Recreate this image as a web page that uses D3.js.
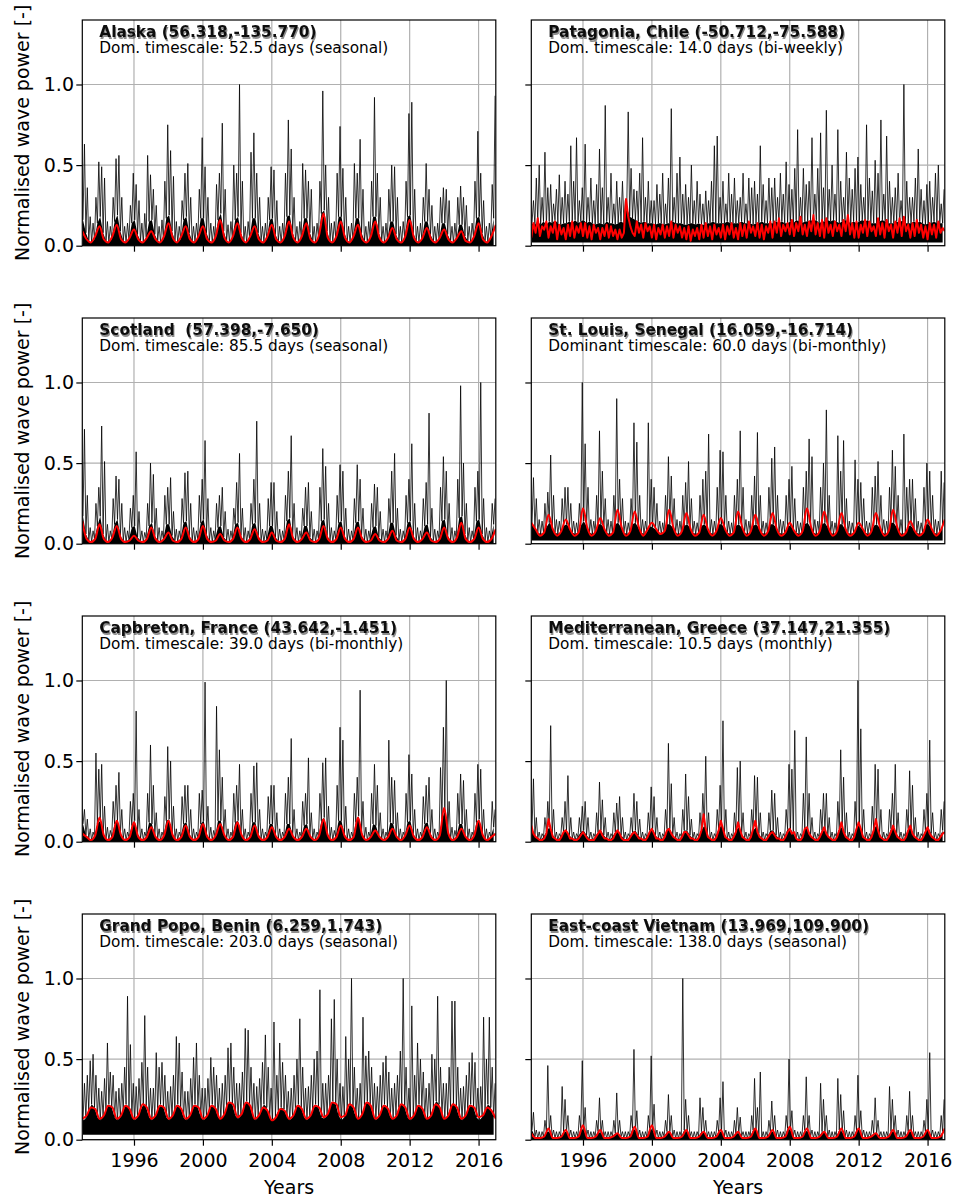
<!DOCTYPE html>
<html>
<head>
<meta charset="utf-8">
<script src="https://cdn.jsdelivr.net/npm/d3@7"></script>
<style>
  body { margin: 0; background: #fff; }
  text { font-family: "DejaVu Sans", sans-serif; }
</style>
</head>
<body>
<svg id="chart" width="955" height="1197"></svg>
<script>
// All power values are in hundredths of normalised wave power.
// Black series: 12 samples a year, alternating trough (body level) and peak (storm spike).
// Red series: smoothed signal, 4 samples a year (8 for the two noisy sites).
const startYear = 1993;
const endYear = 2017;
const blackPerYear = 12;
const yearTicks = [1996, 2000, 2004, 2008, 2012, 2016];
const powerTicks = [0, 0.5, 1.0];

const siteNames = [
  'Alaska (56.318,-135.770)', 'Patagonia, Chile (-50.712,-75.588)',
  'Scotland  (57.398,-7.650)', 'St. Louis, Senegal (16.059,-16.714)',
  'Capbreton, France (43.642,-1.451)', 'Mediterranean, Greece (37.147,21.355)',
  'Grand Popo, Benin (6.259,1.743)', 'East-coast Vietnam (13.969,109.900)'
];
const timescales = [
  'Dom. timescale: 52.5 days (seasonal)', 'Dom. timescale: 14.0 days (bi-weekly)',
  'Dom. timescale: 85.5 days (seasonal)', 'Dominant timescale: 60.0 days (bi-monthly)',
  'Dom. timescale: 39.0 days (bi-monthly)', 'Dom. timescale: 10.5 days (monthly)',
  'Dom. timescale: 203.0 days (seasonal)', 'Dom. timescale: 138.0 days (seasonal)'
];
// lowest level reached by the black signal
const floors = [0, 2, 0, 2, 0, 0, 3, 0];

const alaskaBlack = [
  16,63,8,36,3,18,2,14,4,30,14,52, 18,49,8,42,3,15,2,12,4,30,15,54,
  19,56,9,30,3,12,2,14,4,25,14,45, 16,38,7,28,3,14,2,20,5,56,15,44,
  16,35,7,25,3,12,2,16,4,40,17,75, 19,59,9,43,3,15,2,12,4,28,16,45,
  18,51,8,30,3,12,2,14,5,35,17,67, 17,49,8,30,3,14,2,12,4,38,16,45,
  20,76,9,35,3,13,2,15,5,50,16,45, 18,100,8,40,3,12,2,15,5,58,17,70,
  17,45,8,30,3,12,2,14,4,30,16,49, 17,47,7,28,3,12,2,14,5,45,18,78,
  19,60,8,30,3,12,2,15,5,51,17,47, 17,40,8,35,3,12,2,14,5,40,20,96,
  22,50,9,30,3,14,2,15,5,45,18,74, 18,48,8,30,3,12,2,14,5,51,17,45,
  17,66,8,35,3,12,2,15,5,40,18,92, 18,45,8,30,3,12,2,14,4,35,15,50,
  15,49,7,30,3,12,2,15,5,40,18,82, 19,89,8,35,3,12,2,14,4,30,15,51,
  15,35,7,25,3,12,2,14,4,30,14,36, 14,35,7,28,3,12,2,14,4,30,13,37,
  13,30,6,25,3,12,2,14,5,40,17,71, 18,45,8,28,3,12,2,14,5,38,17,93
];
const patagoniaBlack = [
  14,28,13,42,15,50,13,30,15,58,13,36, 15,38,14,26,16,35,14,44,13,30,14,40,
  14,32,15,62,14,40,16,67,14,28,15,36, 16,63,14,30,15,42,14,28,13,38,14,60,
  14,36,13,87,15,30,14,45,14,26,13,40, 14,30,15,40,14,28,24,83,18,48,17,35,
  16,34,15,45,14,67,15,30,14,40,14,28, 14,28,13,38,14,32,14,45,13,26,14,42,
  14,85,15,30,14,45,14,55,14,32,13,38, 13,30,14,50,14,28,13,40,14,32,13,26,
  13,34,14,28,14,40,15,62,14,68,14,30, 14,40,14,26,15,45,14,32,14,42,14,28,
  14,30,15,45,14,26,14,42,14,36,13,40, 14,32,14,62,15,38,14,28,14,42,14,36,
  14,42,15,30,14,45,15,32,14,52,14,38, 15,35,14,48,16,72,15,30,14,48,15,38,
  15,40,16,67,15,32,16,48,14,70,15,36, 15,84,16,35,15,50,16,32,15,72,14,40,
  15,30,16,58,15,42,14,35,15,48,14,55, 15,38,16,30,15,75,16,42,14,34,14,53,
  14,45,15,78,16,32,15,68,14,40,14,30, 14,36,15,45,14,28,16,100,14,40,14,30,
  14,30,15,42,14,60,15,35,14,28,13,38, 14,40,14,30,15,45,14,50,14,26,14,35
];
const scotlandBlack = [
  17,71,6,30,2,10,1,8,3,25,11,35, 17,73,6,51,2,12,1,8,3,28,12,42,
  15,40,5,25,2,10,1,8,3,22,10,30, 11,57,4,20,2,8,1,7,3,25,11,50,
  13,43,5,22,2,10,1,8,3,30,12,35, 12,41,5,20,2,9,1,8,3,28,13,44,
  14,45,5,25,2,10,1,8,3,30,13,40, 15,64,6,28,2,10,1,8,3,25,10,30,
  11,35,4,20,2,9,1,8,3,22,12,38, 13,56,5,22,2,10,1,8,3,25,12,40,
  13,76,5,25,2,9,1,8,3,28,11,38, 11,38,4,20,2,9,1,8,3,30,14,45,
  16,67,5,25,2,10,1,8,3,22,11,35, 11,38,4,20,2,9,1,8,3,35,14,59,
  15,48,5,25,2,10,1,8,3,30,13,49, 14,45,5,22,2,9,1,8,3,28,13,49,
  14,40,5,22,2,9,1,8,3,25,10,37, 11,35,4,20,2,9,1,8,3,28,13,45,
  13,56,5,22,2,9,1,8,3,30,13,40, 14,62,5,25,2,10,1,8,3,28,11,38,
  12,81,4,22,2,9,1,8,3,35,14,54, 15,45,5,25,2,10,1,8,3,40,16,98,
  17,50,6,25,2,10,1,8,3,35,14,45, 15,100,6,28,2,10,1,8,3,25,12,28
];
const senegalBlack = [
  12,41,10,28,7,15,6,14,7,25,10,32, 13,55,11,30,7,15,6,14,7,28,11,35,
  12,35,10,25,7,14,6,13,7,25,11,100, 14,62,11,35,7,15,6,14,7,30,12,70,
  12,45,10,28,7,15,6,14,7,30,12,90, 13,40,10,28,7,14,6,13,7,28,12,75,
  13,63,10,30,7,15,6,14,7,75,11,40, 10,35,9,25,7,14,6,13,7,30,12,54,
  12,42,10,28,7,15,6,14,7,30,11,38, 12,51,10,28,7,14,6,13,7,30,11,40,
  12,45,10,68,7,15,6,14,7,35,12,58, 12,57,10,30,7,14,6,13,7,30,11,40,
  12,70,10,35,7,15,6,14,7,30,11,42, 12,69,10,30,7,14,6,13,7,35,12,53,
  12,60,10,30,7,15,6,14,7,30,11,40, 11,48,9,28,7,14,6,13,7,35,12,45,
  13,65,10,54,7,15,6,14,7,35,12,50, 13,83,10,30,7,14,6,13,7,67,12,45,
  12,64,9,28,7,14,6,13,7,52,11,40, 11,38,9,28,7,14,6,13,7,35,11,42,
  12,51,10,30,7,15,6,14,7,35,13,58, 13,48,10,30,7,15,6,68,7,35,11,40,
  11,40,9,28,7,14,6,13,7,35,12,50, 12,45,10,30,7,15,6,14,7,45,11,38
];
const capbretonBlack = [
  11,20,4,14,2,8,1,6,3,55,11,45, 13,48,5,22,2,9,1,7,3,25,11,35,
  13,43,5,20,2,8,1,6,3,25,10,30, 13,81,5,20,2,8,1,6,3,30,12,60,
  11,35,4,18,2,8,1,6,3,28,13,59, 14,50,5,22,2,8,1,6,3,28,11,35,
  12,35,5,20,2,8,1,6,3,30,11,32, 13,99,5,22,2,9,1,7,3,84,13,57,
  13,40,5,20,2,8,1,6,3,30,12,35, 13,48,5,20,2,8,1,6,3,30,12,47,
  12,49,5,20,2,8,1,6,3,28,11,35, 11,35,4,18,2,8,1,6,3,30,11,40,
  11,64,4,20,2,8,1,6,3,25,10,30, 11,52,4,18,2,8,1,6,3,30,13,49,
  15,52,5,22,2,9,1,7,3,35,13,71, 13,63,5,22,2,8,1,6,3,30,12,40,
  16,94,6,25,2,9,1,6,3,30,11,48, 10,35,4,18,2,8,1,6,3,63,12,40,
  11,38,4,18,2,8,1,6,3,30,12,54, 13,42,5,20,2,8,1,6,3,28,11,35,
  12,40,5,20,2,8,1,6,3,46,14,71, 19,100,6,25,2,9,1,7,3,30,11,42,
  11,38,4,20,2,8,1,6,3,30,12,48, 14,45,5,20,2,8,1,6,3,25,9,20
];
const greeceBlack = [
  8,39,4,15,2,6,1,5,3,15,6,25, 9,72,5,20,2,6,1,5,3,15,6,25,
  7,41,4,15,2,6,1,5,3,15,6,22, 7,25,4,15,2,6,1,5,3,18,6,37,
  7,26,4,15,2,6,1,5,3,18,6,24, 7,28,4,15,2,6,1,5,3,15,6,30,
  7,25,4,14,2,6,1,5,3,18,7,34, 8,28,4,15,2,6,1,5,3,20,8,61,
  8,36,4,15,2,6,1,5,3,20,7,42, 7,28,4,14,2,6,1,5,3,18,7,30,
  10,53,5,18,2,6,1,5,3,20,8,35, 10,75,5,20,2,6,1,5,3,18,7,46,
  9,50,5,18,2,6,1,5,3,20,7,41, 9,40,5,18,2,6,1,5,3,18,7,32,
  7,30,4,15,2,6,1,5,3,20,8,48, 8,45,5,69,2,6,1,5,3,30,8,65,
  8,30,4,15,2,6,1,5,3,20,7,30, 7,30,4,15,2,6,1,5,3,25,8,57,
  9,40,5,18,2,6,1,5,3,25,9,100, 10,70,5,20,2,6,1,5,3,22,8,48,
  10,45,5,20,2,6,1,5,3,20,8,30, 9,48,5,18,2,6,1,5,3,20,8,44,
  8,35,4,15,2,6,1,5,3,20,7,30, 9,63,5,18,2,6,1,5,3,20,7,25
];
const popoBlack = [
  12,35,13,40,18,49,22,53,20,40,14,32, 12,30,14,38,18,60,22,42,20,40,14,30,
  12,32,14,35,18,45,22,89,20,59,14,35, 12,33,14,38,18,48,22,77,20,45,14,32,
  12,32,14,54,18,45,22,48,20,40,14,30, 12,33,14,40,18,64,22,60,20,42,14,30,
  12,30,14,38,18,51,22,60,20,40,14,32, 12,32,14,38,18,51,22,45,20,40,14,32,
  13,35,15,40,20,57,24,60,22,45,15,35, 13,35,15,42,20,69,24,68,22,45,15,35,
  12,33,14,38,18,48,22,65,20,45,14,32, 12,73,14,40,18,60,20,48,19,40,14,30,
  12,32,14,40,18,50,22,75,20,45,14,32, 12,33,14,40,18,50,22,55,20,93,14,35,
  13,35,15,40,20,75,24,87,22,50,15,35, 12,33,14,64,18,50,22,100,20,45,14,32,
  13,35,15,76,20,52,24,55,22,45,15,35, 12,33,14,40,18,48,22,52,20,42,14,32,
  13,35,15,40,20,55,22,100,20,45,14,32, 12,83,14,40,18,60,22,50,20,42,14,32,
  13,35,15,53,20,50,24,89,22,45,15,35, 13,35,15,45,20,86,22,86,20,45,14,32,
  12,33,14,40,18,48,22,54,20,48,14,32, 12,33,14,76,18,50,22,76,20,45,14,35
];
const vietnamBlack = [
  6,17,2,6,1,5,1,5,2,12,5,46, 5,15,2,6,1,5,1,5,2,33,5,25,
  5,15,2,6,1,5,1,5,2,15,7,49, 6,20,2,6,1,5,1,5,2,12,5,26,
  4,12,2,5,1,5,1,5,2,12,4,29, 4,12,2,5,1,5,1,5,2,15,7,56,
  6,18,2,6,1,5,1,5,2,15,7,52, 6,22,2,6,1,5,1,5,2,12,5,28,
  5,15,2,6,1,5,1,5,2,100,6,25, 5,15,2,5,1,5,1,5,2,26,5,20,
  4,12,2,5,1,5,1,5,2,12,5,26, 5,36,2,6,1,5,1,5,2,12,4,20,
  4,14,2,5,1,5,1,5,2,15,6,38, 6,20,2,42,1,5,1,5,2,12,5,24,
  5,15,2,6,1,5,1,5,2,15,7,50, 6,18,2,6,1,5,1,5,2,15,6,39,
  5,15,2,6,1,5,1,5,2,35,5,25, 5,15,2,6,1,5,1,5,2,38,6,28,
  5,18,2,6,1,5,1,5,2,15,6,40, 6,18,2,6,1,5,1,5,2,12,4,26,
  4,12,2,5,1,5,1,5,2,33,5,25, 5,15,2,6,1,5,1,5,2,15,5,30,
  5,15,2,5,1,5,1,5,2,12,5,25, 6,54,2,6,1,5,1,5,2,15,5,25
];

const alaskaRed = [
  9,4,2,6, 12,4,2,6, 13,4,2,5, 10,4,2,5, 9,4,2,6, 14,5,2,6, 12,4,2,6, 12,4,2,6,
  16,5,2,6, 14,5,2,6, 12,4,2,6, 13,4,2,6, 15,5,2,6, 14,4,2,7, 20,5,2,6, 15,5,2,6,
  13,4,2,6, 15,5,2,5, 11,4,2,6, 16,5,2,5, 11,4,2,5, 10,4,2,5, 9,3,2,6, 14,4,2,6, 13
];
const patagoniaRed = [
  5,14,8,17,6,12,10,15, 5,12,8,15,4,13,7,11, 4,13,6,15,5,12,8,14, 6,14,5,12,4,13,8,11,
  4,11,6,13,5,12,6,10, 4,10,5,8,29,18,12,8, 6,15,8,13,5,14,9,12, 5,13,4,11,7,13,5,12,
  6,15,5,13,8,12,5,11, 4,12,3,10,6,11,4,13, 5,14,6,12,4,13,7,11, 5,13,4,12,7,14,5,11,
  4,14,6,13,5,15,8,12, 6,14,5,13,4,12,8,15, 5,15,8,17,6,13,9,14, 7,16,6,14,9,18,7,13,
  6,15,9,19,7,14,6,16, 5,17,8,13,6,15,9,13, 6,16,9,19,7,14,5,15, 5,13,8,16,6,15,9,12,
  6,17,7,14,5,16,9,13, 5,15,8,17,6,18,9,13, 5,14,6,16,8,13,5,12, 4,14,7,13,5,15,8,11, 9
];
const scotlandRed = [
  14,3,1,3, 12,3,1,4, 11,3,1,2, 5,2,1,3, 10,3,1,3, 7,2,1,3, 10,3,1,3, 11,3,1,2,
  6,2,1,3, 10,3,1,3, 9,3,1,2, 7,2,1,3, 12,3,1,3, 7,2,1,3, 11,3,1,3, 10,3,1,3,
  10,3,1,2, 6,2,1,3, 8,2,1,3, 10,3,1,3, 7,2,1,3, 10,3,1,4, 13,3,1,3, 10,3,1,3, 9
];
const senegalRed = [
  13,9,5,7, 18,9,5,8, 15,9,5,7, 22,10,5,8, 16,9,5,7, 21,10,5,8, 20,10,5,9, 13,9,6,8,
  21,10,5,8, 19,9,5,7, 18,9,5,8, 16,9,5,7, 20,10,5,8, 18,9,5,8, 19,9,5,7, 13,8,5,8,
  22,10,5,8, 20,10,5,8, 19,9,5,7, 13,9,5,8, 19,10,5,8, 21,10,5,7, 14,8,5,7, 15,9,5,8, 15
];
const capbretonRed = [
  5,3,1,4, 15,4,1,3, 13,4,1,3, 12,3,1,3, 9,3,1,4, 13,4,1,3, 10,3,1,3, 11,3,1,4,
  11,4,1,3, 12,4,1,3, 10,3,1,3, 9,3,1,3, 8,3,1,3, 8,3,1,4, 14,4,1,3, 10,3,1,3,
  15,4,1,3, 7,3,1,3, 8,3,1,4, 10,3,1,3, 9,3,1,4, 21,5,1,3, 8,3,1,4, 13,4,1,3, 5
];
const greeceRed = [
  10,5,3,2,1,1,2,5, 14,8,3,2,1,1,3,6, 7,5,2,2,1,1,2,4, 6,4,2,1,1,1,3,5,
  7,4,2,2,1,1,2,5, 7,5,2,1,1,1,3,5, 6,4,2,2,1,1,3,6, 8,5,2,2,1,1,3,7,
  8,5,3,2,1,1,3,6, 6,4,2,2,1,1,3,7, 17,8,3,2,1,1,3,7, 13,8,3,2,1,1,3,6,
  12,7,3,2,1,1,3,8, 13,6,3,2,1,1,3,5, 6,4,2,2,1,1,3,6, 8,5,6,2,1,1,3,8,
  9,5,3,2,1,1,3,6, 9,5,3,2,1,1,3,7, 12,6,3,2,1,1,3,8, 12,8,3,2,1,1,3,7,
  14,7,3,2,1,1,3,6, 10,6,3,2,1,1,3,7, 10,5,3,2,1,1,3,6, 9,5,3,2,1,1,3,5, 6
];
const popoRed = [
  13,15,20,19, 13,15,21,20, 13,15,21,19, 13,15,22,20, 13,15,21,20, 13,15,21,19,
  13,15,21,20, 13,15,21,19, 13,16,23,22, 14,16,23,21, 13,15,20,18, 12,14,19,18,
  13,15,21,19, 13,15,21,20, 14,16,23,22, 14,15,22,20, 13,16,23,21, 13,15,21,19,
  13,15,22,20, 13,15,21,19, 13,15,22,20, 13,15,22,20, 13,15,21,20, 14,15,20,18, 13
];
const vietnamRed = [
  4,1,1,2, 7,1,1,2, 6,1,1,2, 9,1,1,2, 6,1,1,2, 4,1,1,2, 8,1,1,2, 9,1,1,2,
  5,1,1,2, 6,1,1,2, 5,1,1,2, 6,1,1,2, 5,1,1,2, 7,1,1,2, 6,1,1,2, 8,1,1,2,
  7,1,1,2, 5,1,1,2, 7,1,1,2, 7,1,1,2, 4,1,1,2, 6,1,1,2, 6,1,1,2, 6,1,1,2, 7
];

const blackSeries = [alaskaBlack, patagoniaBlack, scotlandBlack, senegalBlack,
  capbretonBlack, greeceBlack, popoBlack, vietnamBlack];
const redSeries = [alaskaRed, patagoniaRed, scotlandRed, senegalRed,
  capbretonRed, greeceRed, popoRed, vietnamRed];

// layout
const panelW = 413.5;
const panelH = 225.7;
const colX = [82.3, 531.3];
const rowY = [20, 318, 616, 914];

const svg = d3.select('#chart');
svg.append('rect').attr('width', 955).attr('height', 1197).attr('fill', '#fff');

// soft drop shadow used behind the site titles
const shadow = svg.append('defs').append('filter').attr('id', 'shadow')
  .attr('x', '-5%').attr('y', '-30%').attr('width', '115%').attr('height', '170%');
shadow.append('feGaussianBlur').attr('in', 'SourceAlpha').attr('stdDeviation', 0.7).attr('result', 'blur');
shadow.append('feOffset').attr('in', 'blur').attr('dx', 1.2).attr('dy', 1.5).attr('result', 'off');
shadow.append('feComponentTransfer').attr('in', 'off').attr('result', 'soft')
  .append('feFuncA').attr('type', 'linear').attr('slope', 0.45);
const merge = shadow.append('feMerge');
merge.append('feMergeNode').attr('in', 'soft');
merge.append('feMergeNode').attr('in', 'SourceGraphic');

const x = d3.scaleLinear().domain([startYear, endYear]).range([0, panelW]);
const y = d3.scaleLinear().domain([0, 1.4]).range([panelH, 0]);

blackSeries.forEach((series, p) => {
  const col = p % 2;
  const row = Math.floor(p / 2);
  const g = svg.append('g').attr('transform', `translate(${colX[col]},${rowY[row]})`);

  g.append('clipPath').attr('id', `clip${p}`)
    .append('rect').attr('width', panelW).attr('height', panelH);

  // grid
  g.append('g').selectAll('line').data(yearTicks).join('line')
    .attr('x1', d => x(d)).attr('x2', d => x(d))
    .attr('y1', 0).attr('y2', panelH)
    .attr('stroke', '#b0b0b0').attr('stroke-width', 1.2);
  g.append('g').selectAll('line').data(powerTicks).join('line')
    .attr('x1', 0).attr('x2', panelW)
    .attr('y1', d => y(d)).attr('y2', d => y(d))
    .attr('stroke', '#b0b0b0').attr('stroke-width', 1.2);

  const plot = g.append('g').attr('clip-path', `url(#clip${p})`);

  const pts = series.map((v, i) => ({ t: startYear + (i + 0.5) / blackPerYear, v: v / 100 }));
  const troughs = pts.filter((d, i) => i % 2 === 0);
  const floor = floors[p] / 100;

  // dense body of the signal
  plot.append('path').datum(troughs)
    .attr('d', d3.area().x(d => x(d.t)).y0(y(floor)).y1(d => y(d.v)))
    .attr('fill', '#000');

  // raw signal
  plot.append('path').datum(pts)
    .attr('d', d3.line().x(d => x(d.t)).y(d => y(d.v)))
    .attr('fill', 'none').attr('stroke', '#000')
    .attr('stroke-width', 0.8).attr('stroke-linejoin', 'bevel');

  // smoothed signal
  const red = redSeries[p];
  const perYear = (red.length - 1) / (endYear - startYear);
  const redCurve = perYear > 4 ? d3.curveLinear : d3.curveMonotoneX;
  plot.append('path')
    .datum(red.map((v, k) => ({ t: startYear + k / perYear, v: v / 100 })))
    .attr('d', d3.line().curve(redCurve).x(d => x(d.t)).y(d => y(d.v)))
    .attr('fill', 'none').attr('stroke', '#ff0000').attr('stroke-width', 2)
    .attr('stroke-linejoin', 'round');

  // axes
  const yAxis = g.append('g')
    .call(d3.axisLeft(y).tickValues(powerTicks).tickSize(6).tickPadding(2.3)
      .tickFormat(col === 0 ? d3.format('.1f') : () => ''));
  const xAxis = g.append('g').attr('transform', `translate(0,${panelH})`)
    .call(d3.axisBottom(x).tickValues(yearTicks).tickSize(6).tickPadding(7.5)
      .tickFormat(row === 3 ? d3.format('d') : () => ''));
  [yAxis, xAxis].forEach(a => {
    a.attr('font-size', 19).attr('font-family', '"DejaVu Sans", sans-serif');
    a.select('.domain').remove();
    a.selectAll('line').attr('stroke', '#000').attr('stroke-width', 1.2);
    a.selectAll('text').attr('fill', '#000');
  });

  // frame
  g.append('rect').attr('width', panelW).attr('height', panelH)
    .attr('fill', 'none').attr('stroke', '#000').attr('stroke-width', 1.2);

  // site title and timescale line
  g.append('text').attr('x', 17).attr('y', 16.5)
    .attr('font-size', 15.3).attr('font-weight', 'bold')
    .attr('fill', '#111').attr('filter', 'url(#shadow)').style('white-space', 'pre')
    .text(siteNames[p]);
  g.append('text').attr('x', 17).attr('y', 33)
    .attr('font-size', 15.3).attr('fill', '#000')
    .text(timescales[p]);

  if (col === 0) {
    svg.append('text')
      .attr('transform', `translate(29.3,${rowY[row] + panelH / 2}) rotate(-90)`)
      .attr('text-anchor', 'middle').attr('font-size', 19)
      .text('Normalised wave power [-]');
  }
  if (row === 3) {
    svg.append('text')
      .attr('x', colX[col] + panelW / 2).attr('y', 1193.5)
      .attr('text-anchor', 'middle').attr('font-size', 19)
      .text('Years');
  }
});
</script>
</body>
</html>
